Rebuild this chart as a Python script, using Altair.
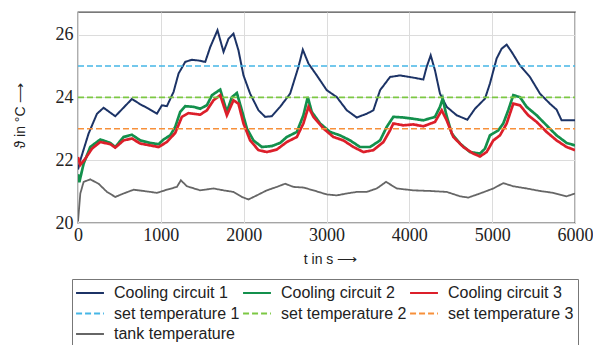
import altair as alt
import pandas as pd

# ---------------- data ----------------
series_names = [
    "Cooling circuit 1", "Cooling circuit 2", "Cooling circuit 3",
    "set temperature 1", "set temperature 2", "set temperature 3",
    "tank temperature",
]
series_colors = ["#1c3366", "#13904c", "#dc1f2a", "#45b6e6", "#7cc843", "#f7903a", "#666666"]
series_dashes = [[1, 0], [1, 0], [1, 0], [6, 3], [6, 3], [6, 3], [1, 0]]

t_c1 = [0, 28, 128, 229, 309, 450, 651, 752, 852, 953, 1013, 1073, 1153, 1214, 1294, 1375,
        1467, 1536, 1596, 1684, 1757, 1817, 1877, 1937, 1998, 2078, 2179, 2259, 2340, 2440,
        2561, 2661, 2714, 2782, 2883, 3003, 3124, 3245, 3365, 3486, 3566, 3647, 3767, 3888,
        4048, 4169, 4209, 4258, 4310, 4370, 4451, 4572, 4700, 4793, 4913, 4973, 5054, 5114,
        5175, 5235, 5335, 5456, 5577, 5697, 5778, 5838, 6000]
v_c1 = [21.7, 22.0, 22.85, 23.48, 23.67, 23.40, 23.95, 23.78, 23.64, 23.48, 23.75, 23.72, 24.17,
        24.76, 25.13, 25.20, 25.17, 25.13, 25.60, 26.14, 25.45, 25.87, 26.03, 25.50, 24.70,
        24.12, 23.59, 23.38, 23.40, 23.70, 24.12, 24.97, 25.52, 25.08, 24.70, 24.23, 24.01,
        23.59, 23.36, 23.48, 23.59, 24.23, 24.65, 24.70, 24.63, 24.57, 24.97, 25.34, 24.86,
        24.12, 23.70, 23.43, 23.29, 23.64, 23.96, 24.44, 25.24, 25.55, 25.68, 25.45, 25.02,
        24.65, 24.12, 23.80, 23.61, 23.27, 23.27]

t_c2 = [0, 16, 68, 148, 269, 390, 450, 550, 651, 752, 872, 973, 1033, 1113, 1174, 1234, 1294,
        1395, 1475, 1556, 1617, 1717, 1797, 1858, 1918, 1978, 2039, 2118, 2220, 2340, 2440,
        2521, 2642, 2721, 2774, 2822, 2923, 3043, 3164, 3285, 3405, 3526, 3647, 3727, 3807,
        3928, 4048, 4169, 4310, 4370, 4403, 4443, 4512, 4612, 4732, 4853, 4913, 4973, 5074,
        5134, 5194, 5255, 5335, 5416, 5537, 5657, 5778, 5899, 6000]
v_c2 = [21.55, 21.30, 21.89, 22.42, 22.66, 22.55, 22.42, 22.74, 22.81, 22.63, 22.55, 22.51,
        22.66, 22.79, 23.06, 23.54, 23.72, 23.70, 23.64, 23.75, 24.07, 24.25, 23.54, 24.01,
        24.14, 23.59, 23.01, 22.63, 22.42, 22.45, 22.55, 22.74, 22.90, 23.43, 24.01, 23.54,
        23.17, 22.90, 22.79, 22.63, 22.42, 22.42, 22.63, 23.06, 23.38, 23.36, 23.32, 23.27,
        23.38, 23.70, 23.96, 23.48, 22.85, 22.53, 22.26, 22.21, 22.37, 22.79, 22.95, 23.17,
        23.59, 24.07, 24.01, 23.70, 23.43, 23.11, 22.79, 22.55, 22.47]

t_c3 = [0, 28, 88, 169, 269, 390, 450, 550, 651, 752, 872, 973, 1073, 1174, 1254, 1334, 1475,
        1556, 1636, 1717, 1797, 1877, 1937, 1998, 2078, 2179, 2280, 2400, 2521, 2642, 2721,
        2782, 2842, 2963, 3083, 3204, 3325, 3445, 3566, 3687, 3767, 3807, 3928, 4048, 4169,
        4310, 4391, 4451, 4531, 4652, 4772, 4853, 4933, 5014, 5094, 5175, 5255, 5335, 5436,
        5537, 5657, 5778, 5899, 6000]
v_c3 = [22.10, 21.85, 22.05, 22.37, 22.58, 22.51, 22.40, 22.63, 22.69, 22.53, 22.47, 22.42,
        22.58, 22.87, 23.38, 23.50, 23.45, 23.59, 23.91, 24.07, 23.43, 23.91, 23.80, 23.17,
        22.63, 22.32, 22.26, 22.34, 22.58, 22.74, 23.17, 23.70, 23.38, 23.01, 22.74, 22.63,
        22.42, 22.26, 22.32, 22.58, 22.95, 23.17, 23.11, 23.14, 23.08, 23.22, 23.59, 23.27,
        22.74, 22.42, 22.21, 22.12, 22.26, 22.63, 22.79, 23.17, 23.80, 23.75, 23.43, 23.22,
        22.90, 22.63, 22.42, 22.32]

t_set = [0, 6000]
v_set1 = [25, 25]
v_set2 = [24, 24]
v_set3 = [23, 23]

t_tank = [0, 28, 68, 148, 249, 350, 450, 550, 671, 792, 953, 1073, 1194, 1242, 1315, 1475,
          1636, 1757, 1877, 1978, 2058, 2159, 2280, 2400, 2501, 2601, 2721, 2842, 3003, 3124,
          3245, 3365, 3486, 3607, 3719, 3848, 4048, 4250, 4451, 4612, 4712, 4853, 5014, 5134,
          5255, 5416, 5577, 5737, 5899, 6000]
v_tank = [20.05, 20.94, 21.31, 21.39, 21.25, 20.99, 20.83, 20.94, 21.06, 21.02, 20.96, 21.06,
          21.15, 21.36, 21.17, 21.04, 21.10, 21.04, 20.99, 20.83, 20.75, 20.88, 21.04, 21.15,
          21.25, 21.15, 21.13, 21.04, 20.91, 20.88, 20.94, 20.99, 20.99, 21.10, 21.31, 21.10,
          21.04, 21.02, 20.99, 20.85, 20.81, 20.94, 21.10, 21.27, 21.17, 21.10, 21.02, 20.96,
          20.85, 20.94]

x_ticks = [0, 1000, 2000, 3000, 4000, 5000, 6000]
y_ticks = [20, 22, 24, 26]

# ---------------- table ----------------
all_series = [
    (series_names[0], t_c1, v_c1),
    (series_names[1], t_c2, v_c2),
    (series_names[2], t_c3, v_c3),
    (series_names[3], t_set, v_set1),
    (series_names[4], t_set, v_set2),
    (series_names[5], t_set, v_set3),
    (series_names[6], t_tank, v_tank),
]
rows = []
for name, ts, vs in all_series:
    for t, v in zip(ts, vs):
        rows.append({"series": name, "t": t, "v": v})
df = pd.DataFrame(rows)

legend = alt.Legend(
    title=None, orient="none", legendX=-6, legendY=267, columns=3, direction="horizontal",
    symbolType="M-1.55,0H1.55", symbolSize=324, symbolStrokeWidth=2,
    symbolOffset=4, labelOffset=14, labelFont="Liberation Sans", labelFontSize=16,
    labelColor="#222222", labelLimit=400, rowPadding=2.5, columnPadding=-1, padding=4,
    strokeColor="#777777", fillColor="white", cornerRadius=0,
)

x_enc = alt.X("t:Q", scale=alt.Scale(domain=[0, 6000], nice=False),
              axis=alt.Axis(values=x_ticks, format="d", title="t in s ⟶",
                            titleX=252, titleY=36, titleBaseline="middle",
                            labelPadding=3, labelFlush=False))
y_enc = alt.Y("v:Q", scale=alt.Scale(domain=[20, 26.72], nice=False, zero=False),
              axis=alt.Axis(values=y_ticks, format="d", title="ϑ in °C ⟶",
                            titleX=-58, titleY=103, titleBaseline="middle",
                            labelPadding=5, labelFlush=False))
color_enc = alt.Color("series:N", scale=alt.Scale(domain=series_names, range=series_colors),
                      legend=legend)
dash_enc = alt.StrokeDash("series:N", scale=alt.Scale(domain=series_names, range=series_dashes),
                          legend=legend)


def layer(names, width):
    return (
        alt.Chart(df)
        .transform_filter(alt.FieldOneOfPredicate(field="series", oneOf=names))
        .mark_line(strokeWidth=width, clip=True)
        .encode(x=x_enc, y=y_enc, color=color_enc, strokeDash=dash_enc, detail="series:N")
    )


chart = (
    alt.layer(
        layer([series_names[0]], 2.0),
        layer([series_names[1]], 2.7),
        layer([series_names[2]], 2.7),
        layer(series_names[3:6], 1.6),
        layer([series_names[6]], 1.8),
    )
    .properties(
        width=497, height=211,
        autosize=alt.AutoSizeParams(type="none"),
        padding={"left": 70, "top": 4, "right": 18, "bottom": 122},
    )
    .configure_view(stroke="#4d4d4d", strokeWidth=1.3)
    .configure_axis(
        domain=False, ticks=False, grid=True, gridColor="#dcdcdc", gridWidth=1,
        labelFont="Liberation Serif", labelFontSize=18, labelColor="#222222",
        titleFont="Liberation Sans", titleFontSize=14, titleFontWeight="normal",
        titleColor="#222222",
    )
)

chart.save("out.html", embed_options={"renderer": "svg", "actions": False})
